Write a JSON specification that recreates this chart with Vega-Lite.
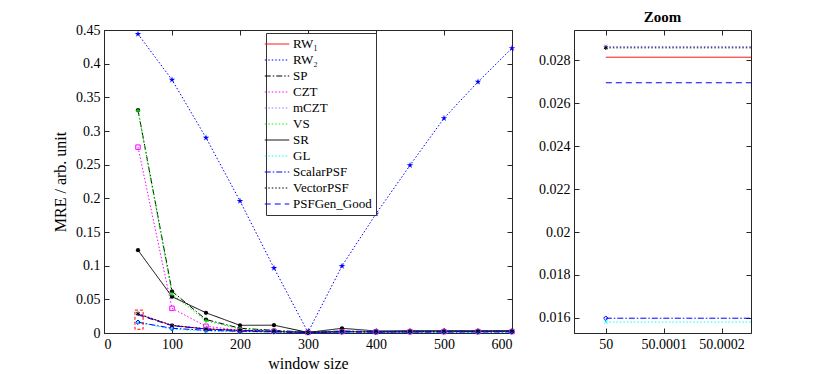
{
"$schema": "https://vega.github.io/schema/vega-lite/v6.json",
"padding": {"left": 52, "top": 9, "right": 5, "bottom": 5},
"bounds": "flush",
"spacing": 62,
"config": {
  "font": "Liberation Serif",
  "view": {"stroke": "#262626", "strokeWidth": 1},
  "axis": {"grid": false, "labelFontSize": 14, "titleFontSize": 16, "titleFontWeight": "normal", "labelColor": "#000", "titleColor": "#000", "domainColor": "#262626", "tickColor": "#262626", "tickSize": -5, "labelPadding": 9, "labelFont": "Liberation Serif", "titleFont": "Liberation Serif"},
  "title": {"font": "Liberation Serif", "fontSize": 15, "fontWeight": "bold", "color": "#000", "offset": 5}
},
"datasets": {
  "d": [
    {"series":"RW₁","x":50,"y":0.02815},{"series":"RW₁","x":100,"y":0.0112},{"series":"RW₁","x":150,"y":0.006},{"series":"RW₁","x":200,"y":0.0038},{"series":"RW₁","x":250,"y":0.0025},{"series":"RW₁","x":300,"y":0.0008},{"series":"RW₁","x":350,"y":0.0022},{"series":"RW₁","x":400,"y":0.0018},{"series":"RW₁","x":450,"y":0.002},{"series":"RW₁","x":500,"y":0.0021},{"series":"RW₁","x":550,"y":0.0022},{"series":"RW₁","x":600,"y":0.0023},
    {"series":"RW₂","x":50,"y":0.444},{"series":"RW₂","x":100,"y":0.376},{"series":"RW₂","x":150,"y":0.29},{"series":"RW₂","x":200,"y":0.196},{"series":"RW₂","x":250,"y":0.0965},{"series":"RW₂","x":300,"y":0.001},{"series":"RW₂","x":350,"y":0.0995},{"series":"RW₂","x":400,"y":0.177},{"series":"RW₂","x":450,"y":0.249},{"series":"RW₂","x":500,"y":0.319},{"series":"RW₂","x":550,"y":0.373},{"series":"RW₂","x":600,"y":0.423},
    {"series":"SP","x":50,"y":0.331},{"series":"SP","x":100,"y":0.062},{"series":"SP","x":150,"y":0.02},{"series":"SP","x":200,"y":0.007},{"series":"SP","x":250,"y":0.004},{"series":"SP","x":300,"y":0.001},{"series":"SP","x":350,"y":0.003},{"series":"SP","x":400,"y":0.002},{"series":"SP","x":450,"y":0.0025},{"series":"SP","x":500,"y":0.0025},{"series":"SP","x":550,"y":0.0026},{"series":"SP","x":600,"y":0.0027},
    {"series":"CZT","x":50,"y":0.276},{"series":"CZT","x":100,"y":0.0366},{"series":"CZT","x":150,"y":0.01},{"series":"CZT","x":200,"y":0.004},{"series":"CZT","x":250,"y":0.0025},{"series":"CZT","x":300,"y":0.0008},{"series":"CZT","x":350,"y":0.002},{"series":"CZT","x":400,"y":0.0017},{"series":"CZT","x":450,"y":0.0019},{"series":"CZT","x":500,"y":0.002},{"series":"CZT","x":550,"y":0.002},{"series":"CZT","x":600,"y":0.0021},
    {"series":"mCZT","x":50,"y":0.02865},{"series":"mCZT","x":100,"y":0.0114},{"series":"mCZT","x":150,"y":0.0062},{"series":"mCZT","x":200,"y":0.004},{"series":"mCZT","x":250,"y":0.0027},{"series":"mCZT","x":300,"y":0.0009},{"series":"mCZT","x":350,"y":0.0024},{"series":"mCZT","x":400,"y":0.002},{"series":"mCZT","x":450,"y":0.0022},{"series":"mCZT","x":500,"y":0.0023},{"series":"mCZT","x":550,"y":0.0024},{"series":"mCZT","x":600,"y":0.0025},
    {"series":"VS","x":50,"y":0.33},{"series":"VS","x":100,"y":0.058},{"series":"VS","x":150,"y":0.018},{"series":"VS","x":200,"y":0.006},{"series":"VS","x":250,"y":0.0035},{"series":"VS","x":300,"y":0.001},{"series":"VS","x":350,"y":0.0028},{"series":"VS","x":400,"y":0.002},{"series":"VS","x":450,"y":0.0024},{"series":"VS","x":500,"y":0.0024},{"series":"VS","x":550,"y":0.0025},{"series":"VS","x":600,"y":0.0026},
    {"series":"SR","x":50,"y":0.123},{"series":"SR","x":100,"y":0.054},{"series":"SR","x":150,"y":0.03},{"series":"SR","x":200,"y":0.0114},{"series":"SR","x":250,"y":0.0116},{"series":"SR","x":300,"y":0.0008},{"series":"SR","x":350,"y":0.007},{"series":"SR","x":400,"y":0.003},{"series":"SR","x":450,"y":0.0035},{"series":"SR","x":500,"y":0.0035},{"series":"SR","x":550,"y":0.0035},{"series":"SR","x":600,"y":0.0035},
    {"series":"GL","x":50,"y":0.0158},{"series":"GL","x":100,"y":0.0055},{"series":"GL","x":150,"y":0.003},{"series":"GL","x":200,"y":0.0018},{"series":"GL","x":250,"y":0.0012},{"series":"GL","x":300,"y":0.0004},{"series":"GL","x":350,"y":0.001},{"series":"GL","x":400,"y":0.0009},{"series":"GL","x":450,"y":0.001},{"series":"GL","x":500,"y":0.001},{"series":"GL","x":550,"y":0.0011},{"series":"GL","x":600,"y":0.0011},
    {"series":"ScalarPSF","x":50,"y":0.01598},{"series":"ScalarPSF","x":100,"y":0.007},{"series":"ScalarPSF","x":150,"y":0.004},{"series":"ScalarPSF","x":200,"y":0.0025},{"series":"ScalarPSF","x":250,"y":0.0016},{"series":"ScalarPSF","x":300,"y":0.0005},{"series":"ScalarPSF","x":350,"y":0.0014},{"series":"ScalarPSF","x":400,"y":0.0012},{"series":"ScalarPSF","x":450,"y":0.0013},{"series":"ScalarPSF","x":500,"y":0.0014},{"series":"ScalarPSF","x":550,"y":0.0015},{"series":"ScalarPSF","x":600,"y":0.0015},
    {"series":"VectorPSF","x":50,"y":0.02859},{"series":"VectorPSF","x":100,"y":0.0113},{"series":"VectorPSF","x":150,"y":0.0061},{"series":"VectorPSF","x":200,"y":0.0039},{"series":"VectorPSF","x":250,"y":0.0026},{"series":"VectorPSF","x":300,"y":0.0008},{"series":"VectorPSF","x":350,"y":0.0023},{"series":"VectorPSF","x":400,"y":0.0019},{"series":"VectorPSF","x":450,"y":0.0021},{"series":"VectorPSF","x":500,"y":0.0022},{"series":"VectorPSF","x":550,"y":0.0023},{"series":"VectorPSF","x":600,"y":0.0024},
    {"series":"PSFGen_Good","x":50,"y":0.02696},{"series":"PSFGen_Good","x":100,"y":0.0108},{"series":"PSFGen_Good","x":150,"y":0.0058},{"series":"PSFGen_Good","x":200,"y":0.0036},{"series":"PSFGen_Good","x":250,"y":0.0024},{"series":"PSFGen_Good","x":300,"y":0.0007},{"series":"PSFGen_Good","x":350,"y":0.0021},{"series":"PSFGen_Good","x":400,"y":0.0017},{"series":"PSFGen_Good","x":450,"y":0.0019},{"series":"PSFGen_Good","x":500,"y":0.002},{"series":"PSFGen_Good","x":550,"y":0.0021},{"series":"PSFGen_Good","x":600,"y":0.0022}
  ],
  "box": [{"x1": 45.5, "x2": 57.5, "y1": 0.0055, "y2": 0.034}]
},
"hconcat": [
  {
    "width": 408, "height": 303,
    "data": {"name": "d"},
    "resolve": {"legend": {"color": "independent", "shape": "independent", "strokeDash": "independent"}, "axis": {"x": "independent", "y": "independent"}},
    "layer": [
      {
        "mark": {"type": "line", "strokeWidth": 1},
        "encoding": {
          "x": {"field": "x", "type": "quantitative", "scale": {"domain": [0, 600], "nice": false}, "axis": {"values": [0,100,200,300,400,500,600], "title": "window size", "titlePadding": 4}},
          "y": {"field": "y", "type": "quantitative", "scale": {"domain": [0, 0.45], "nice": false}, "axis": {"values": [0,0.05,0.1,0.15,0.2,0.25,0.3,0.35,0.4,0.45], "format": "~g", "title": "MRE / arb. unit", "titlePadding": 7}},
          "color": {"field": "series", "type": "nominal",
            "scale": {"domain": ["RW₁","RW₂","SP","CZT","mCZT","VS","SR","GL","ScalarPSF","VectorPSF","PSFGen_Good"], "range": ["#ff0000","#0000ff","#000000","#ff00ff","#7f7fff","#00ff00","#000000","#00ffff","#0000ff","#000000","#0000ff"]},
            "legend": {"orient": "none", "legendX": 162, "legendY": 3, "title": null, "fillColor": "white", "strokeColor": "#333", "padding": 4, "symbolType": "M-2,0H2", "symbolSize": 150, "symbolStrokeWidth": 1, "labelFontSize": 13, "labelFont": "Liberation Serif", "labelColor": "#000", "labelOffset": 9, "rowPadding": 2}},
          "strokeDash": {"field": "series", "type": "nominal",
            "scale": {"domain": ["RW₁","RW₂","SP","CZT","mCZT","VS","SR","GL","ScalarPSF","VectorPSF","PSFGen_Good"], "range": [[1,0],[1.5,2],[6,2,1.5,2],[1.5,2],[1.5,2],[1.5,2],[1,0],[1.5,2],[6,2,1.5,2],[1.5,2],[6,4]]},
            "legend": {"orient": "none", "legendX": 162, "legendY": 3, "title": null, "fillColor": "white", "strokeColor": "#333", "padding": 4, "symbolType": "M-2,0H2", "symbolSize": 150, "symbolStrokeWidth": 1, "labelFontSize": 13, "labelFont": "Liberation Serif", "labelColor": "#000", "labelOffset": 9, "rowPadding": 2}}
        }
      },
      {
        "transform": [{"filter": "indexof(['RW₂','SP','SR'], datum.series) >= 0"}],
        "mark": {"type": "point", "filled": true, "opacity": 1},
        "encoding": {
          "x": {"field": "x", "type": "quantitative", "axis": null},
          "y": {"field": "y", "type": "quantitative", "axis": null},
          "size": {"condition": {"test": "datum.series == 'RW₂'", "value": 45}, "value": 18},
          "color": {"field": "series", "type": "nominal", "legend": null},
          "shape": {"field": "series", "type": "nominal", "legend": null,
            "scale": {"domain": ["RW₁","RW₂","SP","CZT","mCZT","VS","SR","GL","ScalarPSF","VectorPSF","PSFGen_Good"], "range": ["circle","M0,-1L0.2245,-0.309L0.9511,-0.309L0.3633,0.118L0.5878,0.809L0,0.382L-0.5878,0.809L-0.3633,0.118L-0.9511,-0.309L-0.2245,-0.309Z","circle","square","M-0.7,-0.7L0.7,0.7M-0.7,0.7L0.7,-0.7","M-1,0H1M0,-1V1","circle","M-0.7,-0.7L0.7,0.7M-0.7,0.7L0.7,-0.7","diamond","M0,-1V1M-0.87,-0.5L0.87,0.5M-0.87,0.5L0.87,-0.5","circle"]}}
        }
      },
      {
        "transform": [{"filter": "indexof(['CZT','mCZT','VS','GL','ScalarPSF','VectorPSF'], datum.series) >= 0"}],
        "mark": {"type": "point", "filled": false, "size": 20, "strokeWidth": 1, "opacity": 1},
        "encoding": {
          "x": {"field": "x", "type": "quantitative", "axis": null},
          "y": {"field": "y", "type": "quantitative", "axis": null},
          "color": {"field": "series", "type": "nominal", "legend": null},
          "shape": {"field": "series", "type": "nominal", "legend": null}
        }
      },
      {
        "data": {"name": "box"},
        "mark": {"type": "rect", "fill": null, "stroke": "#ff0000", "strokeDash": [3, 2], "strokeWidth": 1},
        "encoding": {
          "x": {"field": "x1", "type": "quantitative", "axis": {"orient": "top", "values": [0,100,200,300,400,500,600], "labels": false, "title": null, "domain": false}},
          "x2": {"field": "x2"},
          "y": {"field": "y1", "type": "quantitative", "axis": {"orient": "right", "values": [0,0.05,0.1,0.15,0.2,0.25,0.3,0.35,0.4,0.45], "labels": false, "title": null, "domain": false}},
          "y2": {"field": "y2"}
        }
      }
    ]
  },
  {
    "width": 177, "height": 303,
    "title": "Zoom",
    "data": {"name": "d"},
    "transform": [{"filter": "datum.x == 50"}],
    "resolve": {"legend": {"color": "independent", "shape": "independent", "strokeDash": "independent"}, "axis": {"x": "independent", "y": "independent"}},
    "layer": [
      {
        "transform": [{"filter": "datum.y > 0.0153 && datum.y < 0.0294"}],
        "mark": {"type": "rule", "strokeWidth": 1},
        "encoding": {
          "x": {"field": "x", "type": "quantitative", "scale": {"domain": [49.999945, 50.000251], "nice": false, "zero": false}, "axis": {"values": [50, 50.0001, 50.0002], "format": "~g", "title": null}},
          "x2": {"value": "width"},
          "y": {"field": "y", "type": "quantitative", "scale": {"domain": [0.01529, 0.02942], "nice": false, "zero": false}, "axis": {"values": [0.016,0.018,0.02,0.022,0.024,0.026,0.028], "format": "~g", "title": null}},
          "color": {"field": "series", "type": "nominal", "legend": null,
            "scale": {"domain": ["RW₁","RW₂","SP","CZT","mCZT","VS","SR","GL","ScalarPSF","VectorPSF","PSFGen_Good"], "range": ["#ff0000","#0000ff","#000000","#ff00ff","#7f7fff","#00ff00","#000000","#00ffff","#0000ff","#000000","#0000ff"]}},
          "strokeDash": {"field": "series", "type": "nominal", "legend": null,
            "scale": {"domain": ["RW₁","RW₂","SP","CZT","mCZT","VS","SR","GL","ScalarPSF","VectorPSF","PSFGen_Good"], "range": [[1,0],[1.5,2],[6,2,1.5,2],[1.5,2],[1.5,2],[1.5,2],[1,0],[1.5,2],[6,2,1.5,2],[1.5,2],[6,4]]}}
        }
      },
      {
        "transform": [{"filter": "indexof(['CZT','mCZT','VS','GL','ScalarPSF','VectorPSF'], datum.series) >= 0 && datum.y < 0.0294"}],
        "mark": {"type": "point", "filled": false, "size": 20, "strokeWidth": 1, "opacity": 1},
        "encoding": {
          "x": {"field": "x", "type": "quantitative", "axis": {"orient": "top", "values": [50, 50.0001, 50.0002], "labels": false, "title": null, "domain": false}},
          "y": {"field": "y", "type": "quantitative", "axis": {"orient": "right", "values": [0.016,0.018,0.02,0.022,0.024,0.026,0.028], "labels": false, "title": null, "domain": false}},
          "color": {"field": "series", "type": "nominal", "legend": null},
          "shape": {"field": "series", "type": "nominal", "legend": null,
            "scale": {"domain": ["RW₁","RW₂","SP","CZT","mCZT","VS","SR","GL","ScalarPSF","VectorPSF","PSFGen_Good"], "range": ["circle","M0,-1L0.2245,-0.309L0.9511,-0.309L0.3633,0.118L0.5878,0.809L0,0.382L-0.5878,0.809L-0.3633,0.118L-0.9511,-0.309L-0.2245,-0.309Z","circle","square","M-0.7,-0.7L0.7,0.7M-0.7,0.7L0.7,-0.7","M-1,0H1M0,-1V1","circle","M-0.7,-0.7L0.7,0.7M-0.7,0.7L0.7,-0.7","diamond","M0,-1V1M-0.87,-0.5L0.87,0.5M-0.87,0.5L0.87,-0.5","circle"]}}
        }
      }
    ]
  }
]
}
